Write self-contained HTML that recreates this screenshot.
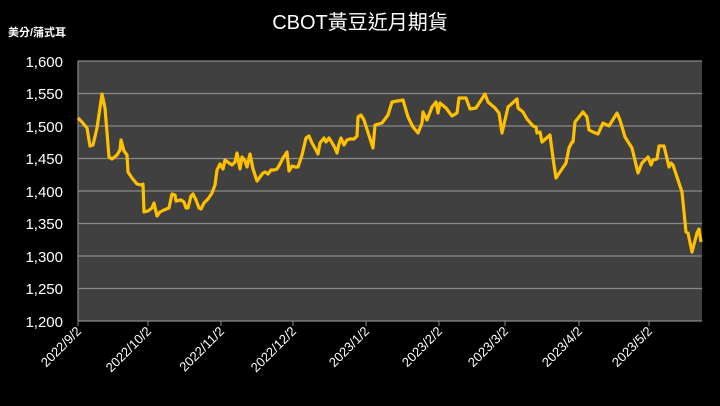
<!DOCTYPE html>
<html><head><meta charset="utf-8"><style>
body{margin:0;background:#000;width:720px;height:406px;overflow:hidden}
svg{display:block}
text{font-family:"Liberation Sans","Noto Sans CJK TC",sans-serif;fill:#fff}
</style></head><body>
<svg width="720" height="406" viewBox="0 0 720 406">
<rect x="0" y="0" width="720" height="406" fill="#000"/>
<rect x="78" y="61" width="624" height="260" fill="#404040"/>
<g stroke="#8a8a8a" stroke-width="1.2">
<line x1="78" x2="702" y1="61" y2="61"/>
<line x1="78" x2="702" y1="93.5" y2="93.5"/>
<line x1="78" x2="702" y1="126" y2="126"/>
<line x1="78" x2="702" y1="158.5" y2="158.5"/>
<line x1="78" x2="702" y1="191" y2="191"/>
<line x1="78" x2="702" y1="223.5" y2="223.5"/>
<line x1="78" x2="702" y1="256" y2="256"/>
<line x1="78" x2="702" y1="288.5" y2="288.5"/>
<line x1="78" x2="702" y1="321" y2="321"/>
<line x1="78" x2="78" y1="61" y2="321"/>
</g>
<g stroke="#8a8a8a" stroke-width="1">
<line x1="78" x2="78" y1="321" y2="326"/><line x1="148" x2="148" y1="321" y2="326"/>
<line x1="221" x2="221" y1="321" y2="326"/><line x1="293" x2="293" y1="321" y2="326"/>
<line x1="366" x2="366" y1="321" y2="326"/><line x1="439" x2="439" y1="321" y2="326"/>
<line x1="505" x2="505" y1="321" y2="326"/><line x1="579" x2="579" y1="321" y2="326"/>
<line x1="649" x2="649" y1="321" y2="326"/>
</g>
<text x="360" y="29" font-size="20" text-anchor="middle">CBOT黃豆近月期貨</text>
<text x="8" y="36" font-size="11" font-weight="bold">美分/蒲式耳</text>
<g font-size="15" text-anchor="end">
<text x="63" y="67">1,600</text><text x="63" y="99">1,550</text><text x="63" y="132">1,500</text>
<text x="63" y="164">1,450</text><text x="63" y="197">1,400</text><text x="63" y="229">1,350</text>
<text x="63" y="262">1,300</text><text x="63" y="294">1,250</text><text x="63" y="327">1,200</text>
</g>
<g font-size="13" text-anchor="end">
<text transform="translate(82,332) rotate(-45)">2022/9/2</text>
<text transform="translate(152,332) rotate(-45)">2022/10/2</text>
<text transform="translate(225,332) rotate(-45)">2022/11/2</text>
<text transform="translate(297,332) rotate(-45)">2022/12/2</text>
<text transform="translate(370,332) rotate(-45)">2023/1/2</text>
<text transform="translate(443,332) rotate(-45)">2023/2/2</text>
<text transform="translate(509,332) rotate(-45)">2023/3/2</text>
<text transform="translate(583,332) rotate(-45)">2023/4/2</text>
<text transform="translate(653,332) rotate(-45)">2023/5/2</text>
</g>
<polyline fill="none" stroke="#ffc000" stroke-width="3.2" stroke-linejoin="round" points="
78,118 82,122 87,128 90,146 93,145 97,128 102,94 105,108 109,157 112,159 117,155 120,150 121,140 124,151 127,155 128,172 132,178 137,184 141,185 143,184 144,212 148,211 152,208 154,203 157,216 160,212 164,210 169,208 172,194 175,195 176,201 181,200 184,202 186,208 188,208 191,196 193,194 196,200 199,208 201,209 204,203 208,199 212,193 215,185 217,170 220,164 223,169 225,160 229,163 232,165 235,162 237,153 240,169 242,157 245,161 247,167 250,154 253,169 257,181 260,177 263,173 265,172 268,174 271,170 274,170 277,169 280,164 283,158 287,152 289,171 292,166 295,167 298,167 302,155 306,138 309,136 312,143 316,150 318,154 320,143 324,138 326,142 329,138 331,141 335,148 337,153 339,144 341,138 344,145 347,140 350,139 354,139 357,136 358,117 361,115 364,120 373,148 375,125 382,123 388,115 392,102 403,100 408,117 413,127 418,133 422,123 423,112 427,120 432,107 436,102 438,113 440,103 446,108 452,116 457,113 459,98 466,98 470,109 476,108 485,94 488,102 495,108 499,113 502,133 508,107 517,99 518,108 523,112 527,119 533,126 536,127 537,133 540,132 542,142 550,135 553,158 556,178 560,172 566,163 569,148 572,142 573,142 575,122 583,112 587,117 589,130 593,132 598,134 603,123 609,126 617,113 620,120 625,137 632,148 638,173 642,163 648,157 651,165 653,160 657,159 659,146 664,146 669,167 671,163 673,165 682,192 686,232 688,233 692,252 697,233 699,229 701,242"/>
</svg>
</body></html>
